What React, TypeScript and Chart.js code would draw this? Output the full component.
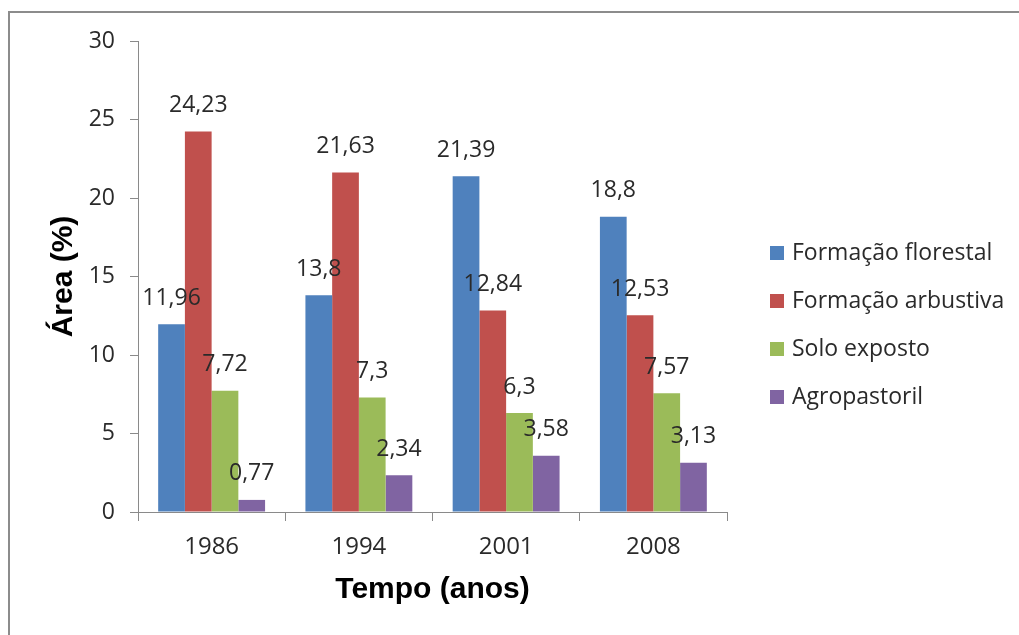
import React, { useEffect, useRef } from "react";
import { Chart, registerables } from "chart.js";

Chart.register(...registerables);

// Land-cover share per survey year (%)
const years = ["1986", "1994", "2001", "2008"];
const seriesNames = ["Formação florestal", "Formação arbustiva", "Solo exposto", "Agropastoril"];
const florestal = [11.96, 13.8, 21.39, 18.8];
const arbustiva = [24.23, 21.63, 12.84, 12.53];
const soloExposto = [7.72, 7.3, 6.3, 7.57];
const agropastoril = [0.77, 2.34, 3.58, 3.13];
const seriesColors = ["#4F81BD", "#C0504D", "#9BBB59", "#8064A2"];
const yMin = 0;
const yMax = 30;
const yStep = 5;

const TEXT = "#2a2a2a";
const AXIS = "#8a8a8a";
const LABEL_FONT = "'Open Sans', 'DejaVu Sans', sans-serif";
const TITLE_FONT = "'Liberation Sans', Arial, sans-serif";

const fmt = (v: number) => String(v).replace(".", ",");

// Value labels above each bar
const valueLabels = {
  id: "valueLabels",
  afterDatasetsDraw(chart: any) {
    const ctx = chart.ctx;
    ctx.save();
    ctx.font = `23px ${LABEL_FONT}`;
    ctx.fillStyle = TEXT;
    ctx.textAlign = "center";
    ctx.textBaseline = "middle";
    chart.data.datasets.forEach((ds: any, i: number) => {
      const meta = chart.getDatasetMeta(i);
      meta.data.forEach((bar: any, j: number) => {
        ctx.fillText(fmt(ds.data[j]), bar.x, bar.y - 26);
      });
    });
    ctx.restore();
  },
};

// Legend column to the right of the plot
const sideLegend = {
  id: "sideLegend",
  afterDraw(chart: any) {
    const ctx = chart.ctx;
    const x0 = chart.chartArea.right + 43;
    const yc = 325;
    const gap = 48;
    const n = chart.data.datasets.length;
    ctx.save();
    ctx.font = `23px ${LABEL_FONT}`;
    ctx.textAlign = "left";
    ctx.textBaseline = "middle";
    chart.data.datasets.forEach((ds: any, i: number) => {
      const y = yc + (i - (n - 1) / 2) * gap;
      ctx.fillStyle = ds.backgroundColor;
      ctx.fillRect(x0, y - 7, 14, 14);
      ctx.fillStyle = TEXT;
      ctx.fillText(ds.label, x0 + 22, y);
    });
    ctx.restore();
  },
};

export default function App() {
  const canvasRef = useRef<HTMLCanvasElement | null>(null);

  useEffect(() => {
    const canvas = canvasRef.current;
    if (!canvas) return;
    const seriesValues = [florestal, arbustiva, soloExposto, agropastoril];
    const chart = new Chart(canvas, {
      type: "bar",
      data: {
        labels: years,
        datasets: seriesValues.map((vals, i) => ({
          label: seriesNames[i],
          data: vals,
          backgroundColor: seriesColors[i],
          borderWidth: 0,
          barPercentage: 1,
          categoryPercentage: 0.726,
        })),
      },
      options: {
        responsive: false,
        animation: false,
        events: [],
        layout: { padding: { left: 10, right: 292, top: 41, bottom: 20 } },
        plugins: {
          legend: { display: false },
          tooltip: { enabled: false },
        },
        scales: {
          x: {
            afterFit: (scale: any) => {
              scale.height = 103;
            },
            grid: {
              display: true,
              offset: true,
              drawOnChartArea: false,
              drawTicks: true,
              tickLength: 9,
              color: AXIS,
            },
            border: { display: true, color: AXIS, width: 1 },
            ticks: {
              color: TEXT,
              font: { family: LABEL_FONT, size: 24 },
              padding: 12,
            },
            title: {
              display: true,
              text: "Tempo (anos)",
              color: "#000",
              font: { family: TITLE_FONT, size: 30, weight: "bold" },
              padding: { top: 0, bottom: 7 },
            },
          },
          y: {
            min: yMin,
            max: yMax,
            afterFit: (scale: any) => {
              scale.width = 128;
            },
            grid: {
              display: true,
              drawOnChartArea: false,
              drawTicks: true,
              tickLength: 8,
              color: AXIS,
            },
            border: { display: true, color: AXIS, width: 1 },
            ticks: {
              stepSize: yStep,
              color: TEXT,
              font: { family: LABEL_FONT, size: 23 },
              padding: 15,
            },
            title: {
              display: true,
              text: "Área (%)",
              color: "#000",
              font: { family: TITLE_FONT, size: 30, weight: "bold" },
              padding: { top: 36, bottom: 0 },
            },
          },
        },
      },
      plugins: [valueLabels, sideLegend],
    });
    return () => chart.destroy();
  }, []);

  return (
    <div
      style={{
        position: "fixed",
        left: 0,
        top: 0,
        width: 1019,
        height: 635,
        background: "#fff",
        overflow: "hidden",
      }}
    >
      <canvas ref={canvasRef} width={1019} height={635} style={{ position: "absolute", left: 0, top: 0 }} />
      <div
        style={{
          position: "absolute",
          left: 8,
          top: 11,
          width: 1100,
          height: 700,
          border: "2px solid #8c8c8c",
          boxSizing: "border-box",
          pointerEvents: "none",
        }}
      />
    </div>
  );
}
